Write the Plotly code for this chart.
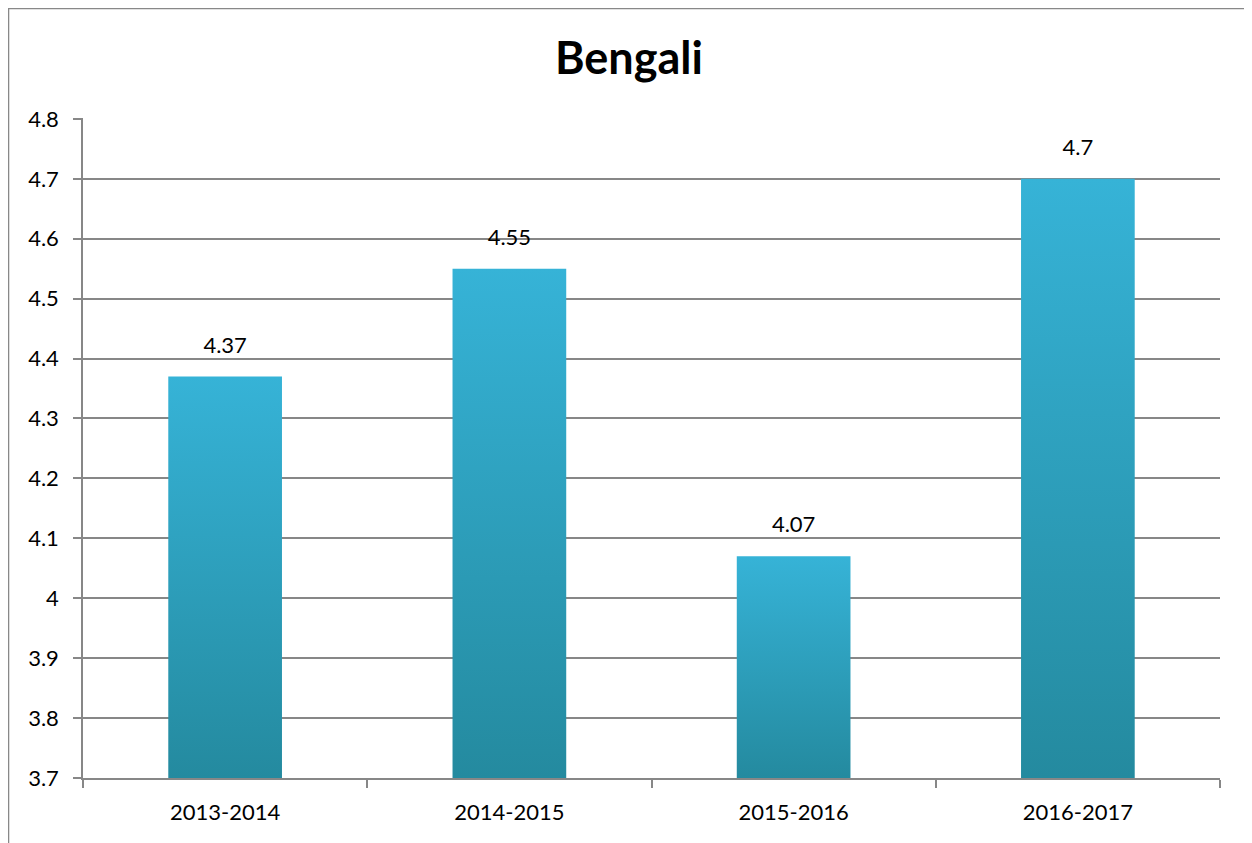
import plotly.graph_objects as go

# dados do gráfico
anos = ["2013-2014", "2014-2015", "2015-2016", "2016-2017"]
valores = [4.37, 4.55, 4.07, 4.7]
y_ticks = [3.7, 3.8, 3.9, 4.0, 4.1, 4.2, 4.3, 4.4, 4.5, 4.6, 4.7, 4.8]

BASE = 3.7
LARGURA = 0.4
FONTE = "Lato, 'Open Sans', sans-serif"
CINZA = "#878787"

fig = go.Figure()

# barras com gradiente (escuro embaixo, claro em cima)
for i, v in enumerate(valores):
    x0, x1 = i - LARGURA / 2, i + LARGURA / 2
    fig.add_trace(go.Scatter(
        x=[x0, x1, x1, x0, x0],
        y=[BASE, BASE, v, v, BASE],
        mode="lines",
        line=dict(width=0),
        fill="toself",
        fillgradient=dict(type="vertical",
                          colorscale=[[0, "#248A9F"], [1, "#36B3D7"]]),
        hoverinfo="skip",
        showlegend=False,
    ))

# rótulos dos valores (marcador invisível só para afastar o texto da barra)
fig.add_trace(go.Scatter(
    x=list(range(len(anos))),
    y=valores,
    mode="markers+text",
    marker=dict(size=28, opacity=0),
    text=[f"{v:g}" for v in valores],
    textposition="top center",
    textfont=dict(size=22, color="#000000", family=FONTE),
    hoverinfo="skip",
    showlegend=False,
))

fig.update_layout(
    width=1252, height=843,
    title=dict(text="<b>Bengali</b>", x=0.496, xanchor="center", y=0.94, yanchor="middle",
               font=dict(size=45, color="#000000", family=FONTE)),
    margin=dict(l=75, r=40, t=110, b=73),
    plot_bgcolor="white",
    paper_bgcolor="white",
    font=dict(family=FONTE, size=22, color="#000000"),
)

fig.update_xaxes(
    range=[-0.5, len(anos) - 0.5],
    tickvals=list(range(len(anos))),
    ticktext=anos,
    ticks="",
    ticklabelstandoff=14,
    showgrid=False,
    zeroline=False,
    showline=True, linecolor=CINZA, linewidth=1.5,
    minor=dict(ticks="outside", tick0=-0.5, dtick=1, ticklen=8,
               tickcolor=CINZA, tickwidth=1.5, showgrid=False),
    tickfont=dict(size=22),
)

fig.update_yaxes(
    range=[BASE, 4.8015],
    tickvals=y_ticks,
    ticktext=[f"{t:g}" for t in y_ticks],
    ticks="outside", ticklen=8, tickcolor=CINZA, tickwidth=1.5,
    ticklabelstandoff=10,
    showgrid=True, gridcolor=CINZA, gridwidth=1.5,
    zeroline=False,
    showline=True, linecolor=CINZA, linewidth=1.5,
    tickfont=dict(size=22),
)

# moldura do gráfico
fig.add_shape(type="rect", xref="paper", yref="paper",
              x0=-0.0655, x1=1.0246, y0=-0.12, y1=1.1659,
              line=dict(color="#888888", width=1.5), fillcolor="rgba(0,0,0,0)",
              layer="below")

fig.write_html("out.html")
